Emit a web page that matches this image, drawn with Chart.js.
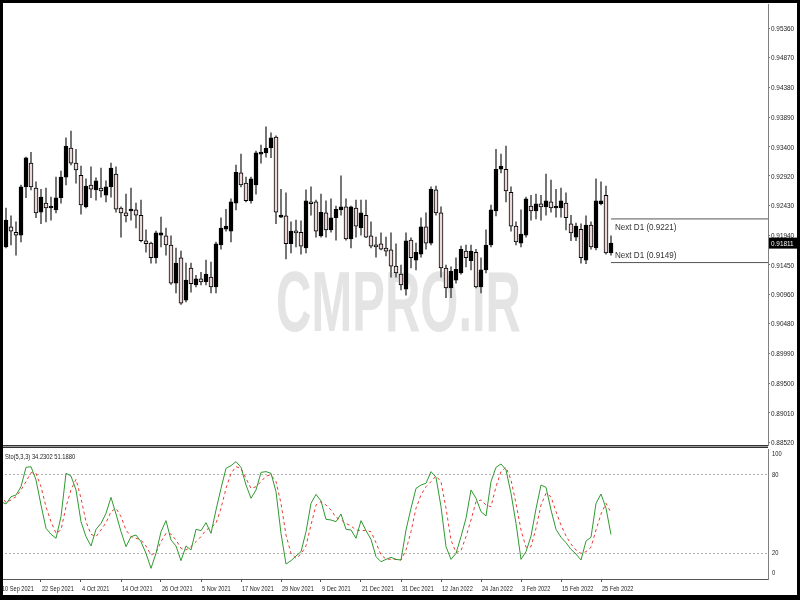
<!DOCTYPE html>
<html>
<head>
<meta charset="utf-8">
<script src="https://cdn.jsdelivr.net/npm/chart.js@4.4.0/dist/chart.umd.min.js"></script>
<style>
  body { margin: 0; background: #fff; }
  #wrap { position: relative; width: 800px; height: 600px; overflow: hidden; background: #fff; }
  #price { position: absolute; left: 0; top: 0; }
  #sto { position: absolute; left: 0; top: 447px; }
  #sep { position: absolute; left: 0; top: 445px; width: 768px; height: 1px; background: #9a9a9a;
         border-top: 1px solid #333; border-bottom: 1px solid #333; }
  #frame { position: absolute; left: 0; top: 0; width: 800px; height: 600px; box-sizing: border-box;
           border-style: solid; border-color: #000; border-width: 3px 3px 5px 3px; pointer-events: none; }
</style>
</head>
<body>
<div id="wrap">
  <canvas id="price" width="800" height="447"></canvas>
  <canvas id="sto" width="800" height="153"></canvas>
  <div id="sep"></div>
  <div id="frame"></div>
</div>
<script>
// daily candles, bar 1 = 13 Sep 2021 ... bar 122 = 1 Mar 2022
const firstBar = 1;
const opens = [
  0.9175, 0.9208, 0.9199, 0.9194, 0.9274, 0.9313, 0.9272, 0.9232, 0.9247, 0.9239,
  0.9236, 0.9256, 0.9290, 0.9338, 0.9313, 0.9293, 0.9241, 0.9277, 0.9269, 0.9272,
  0.9260, 0.9274, 0.9295, 0.9239, 0.9231, 0.9234, 0.9236, 0.9227, 0.9185, 0.9181,
  0.9157, 0.9194, 0.9193, 0.9178, 0.9115, 0.9157, 0.9087, 0.9140, 0.9112, 0.9122,
  0.9117, 0.9125, 0.9109, 0.9178, 0.9204, 0.9201, 0.9247, 0.9297, 0.9280, 0.9251,
  0.9277, 0.9328, 0.9330, 0.9338, 0.9356, 0.9224, 0.9226, 0.9180, 0.9199, 0.9199,
  0.9173, 0.9247, 0.9249, 0.9193, 0.9231, 0.9203, 0.9223, 0.9236, 0.9241, 0.9188,
  0.9239, 0.9206, 0.9227, 0.9193, 0.9178, 0.9180, 0.9173, 0.9170, 0.9143, 0.9130,
  0.9105, 0.9186, 0.9153, 0.9163, 0.9208, 0.9181, 0.9269, 0.9231, 0.9140, 0.9107,
  0.9120, 0.9132, 0.9168, 0.9152, 0.9166, 0.9109, 0.9137, 0.9178, 0.9234, 0.9303,
  0.9303, 0.9265, 0.9209, 0.9181, 0.9194, 0.9242, 0.9234, 0.9246, 0.9241, 0.9249,
  0.9239, 0.9239, 0.9247, 0.9213, 0.9191, 0.9204, 0.9153, 0.9211, 0.9173, 0.9246,
  0.9260, 0.9165
];
const highs = [
  0.9239, 0.9226, 0.9216, 0.9277, 0.9323, 0.9331, 0.9282, 0.9270, 0.9272, 0.9257,
  0.9290, 0.9300, 0.9355, 0.9366, 0.9336, 0.9308, 0.9287, 0.9307, 0.9289, 0.9305,
  0.9284, 0.9313, 0.9307, 0.9241, 0.9262, 0.9272, 0.9247, 0.9252, 0.9203, 0.9183,
  0.9201, 0.9224, 0.9206, 0.9193, 0.9173, 0.9168, 0.9148, 0.9148, 0.9128, 0.9133,
  0.9153, 0.9150, 0.9183, 0.9223, 0.9237, 0.9254, 0.9310, 0.9328, 0.9290, 0.9290,
  0.9333, 0.9343, 0.9373, 0.9363, 0.9358, 0.9270, 0.9264, 0.9216, 0.9219, 0.9218,
  0.9269, 0.9274, 0.9252, 0.9262, 0.9251, 0.9254, 0.9242, 0.9292, 0.9254, 0.9242,
  0.9252, 0.9252, 0.9252, 0.9216, 0.9191, 0.9198, 0.9191, 0.9198, 0.9180, 0.9145,
  0.9198, 0.9190, 0.9181, 0.9223, 0.9231, 0.9274, 0.9275, 0.9241, 0.9145, 0.9142,
  0.9157, 0.9176, 0.9178, 0.9178, 0.9171, 0.9157, 0.9203, 0.9244, 0.9336, 0.9328,
  0.9341, 0.9274, 0.9216, 0.9236, 0.9257, 0.9260, 0.9262, 0.9260, 0.9295, 0.9285,
  0.9270, 0.9272, 0.9264, 0.9227, 0.9214, 0.9213, 0.9226, 0.9216, 0.9287, 0.9282,
  0.9275, 0.9193
];
const lows = [
  0.9173, 0.9178, 0.9161, 0.9183, 0.9256, 0.9269, 0.9223, 0.9213, 0.9216, 0.9219,
  0.9231, 0.9247, 0.9277, 0.9310, 0.9280, 0.9229, 0.9239, 0.9256, 0.9252, 0.9257,
  0.9249, 0.9257, 0.9232, 0.9191, 0.9216, 0.9219, 0.9206, 0.9183, 0.9166, 0.9148,
  0.9148, 0.9175, 0.9161, 0.9113, 0.9099, 0.9080, 0.9084, 0.9100, 0.9109, 0.9112,
  0.9112, 0.9099, 0.9099, 0.9171, 0.9201, 0.9183, 0.9236, 0.9274, 0.9249, 0.9247,
  0.9262, 0.9313, 0.9323, 0.9322, 0.9213, 0.9223, 0.9155, 0.9165, 0.9175, 0.9163,
  0.9165, 0.9227, 0.9191, 0.9191, 0.9191, 0.9199, 0.9186, 0.9227, 0.9186, 0.9173,
  0.9191, 0.9194, 0.9190, 0.9173, 0.9158, 0.9170, 0.9160, 0.9125, 0.9125, 0.9104,
  0.9095, 0.9140, 0.9137, 0.9158, 0.9171, 0.9178, 0.9227, 0.9125, 0.9091, 0.9091,
  0.9115, 0.9130, 0.9142, 0.9137, 0.9107, 0.9099, 0.9132, 0.9175, 0.9226, 0.9297,
  0.9249, 0.9201, 0.9178, 0.9175, 0.9191, 0.9219, 0.9221, 0.9219, 0.9227, 0.9232,
  0.9224, 0.9224, 0.9203, 0.9185, 0.9185, 0.9148, 0.9147, 0.9171, 0.9170, 0.9244,
  0.9163, 0.9161
];
const closes = [
  0.9219, 0.9201, 0.9194, 0.9274, 0.9322, 0.9274, 0.9231, 0.9257, 0.9239, 0.9242,
  0.9256, 0.9290, 0.9341, 0.9313, 0.9302, 0.9244, 0.9275, 0.9270, 0.9284, 0.9267,
  0.9274, 0.9305, 0.9237, 0.9231, 0.9226, 0.9237, 0.9227, 0.9185, 0.9180, 0.9157,
  0.9198, 0.9198, 0.9178, 0.9115, 0.9148, 0.9082, 0.9120, 0.9114, 0.9122, 0.9117,
  0.9130, 0.9109, 0.9180, 0.9206, 0.9209, 0.9249, 0.9298, 0.9277, 0.9251, 0.9287,
  0.9330, 0.9330, 0.9338, 0.9355, 0.9232, 0.9226, 0.9180, 0.9201, 0.9198, 0.9176,
  0.9251, 0.9246, 0.9201, 0.9232, 0.9203, 0.9223, 0.9237, 0.9241, 0.9188, 0.9241,
  0.9209, 0.9231, 0.9191, 0.9176, 0.9175, 0.9171, 0.9168, 0.9143, 0.9132, 0.9112,
  0.9185, 0.9157, 0.9166, 0.9208, 0.9181, 0.9270, 0.9231, 0.9140, 0.9107, 0.9135,
  0.9138, 0.9171, 0.9157, 0.9168, 0.9109, 0.9137, 0.9178, 0.9236, 0.9303, 0.9308,
  0.9267, 0.9209, 0.9183, 0.9196, 0.9254, 0.9234, 0.9246, 0.9241, 0.9251, 0.9239,
  0.9241, 0.9251, 0.9223, 0.9198, 0.9209, 0.9157, 0.9211, 0.9175, 0.9251, 0.9251,
  0.9165, 0.9181
];

// Stochastic (5,3,3), bar 0 = 10 Sep 2021
const stoMain = [
  59.5, 57.7, 63.3, 64.6, 71, 85.9, 86.4, 76.2, 56.9, 39,
  34.4, 31.3, 48, 81.3, 79.2, 68.5, 44.1, 32.6, 25.4, 38.2,
  42.8, 50.5, 62.8, 50, 36.4, 24.9, 32.6, 33.8, 28.7, 19.7,
  8.2, 19.7, 36.4, 44.9, 30, 25.4, 14.1, 25.4, 22.3, 38.2,
  37.2, 43.3, 35.1, 53.1, 69.7, 85.1, 87.2, 90.3, 85.9, 72.3,
  62.1, 68.5, 82, 82.6, 81.3, 67.2, 35.1, 11.5, 14.1, 17.7,
  21, 36.4, 58.2, 65.1, 60, 45.9, 45.4, 44.1, 50, 38.2,
  37.7, 31.3, 44.9, 37.2, 30.5, 17.2, 13.3, 15.1, 16.7, 15.1,
  14.6, 37.7, 54.4, 69.7, 72.3, 73.6, 82.6, 78.2, 55.6, 24.9,
  15.1, 19.7, 32.6, 46.7, 68.5, 62.1, 51.8, 48.5, 74.9, 85.9,
  88.5, 83.9, 65.9, 42.8, 15.1, 21, 33, 54, 72.3, 70.5,
  53.1, 38.2, 32.1, 27.9, 22.8, 19.2, 14.6, 29.2, 32.1, 58.2,
  65.4, 54.4, 34.2
];
const stoSignal = [
  64.6, 58.7, 60.8, 63.3, 68.5, 74.9, 81.8, 81.3, 71, 55.6,
  44.1, 35.1, 37.7, 55.6, 68.5, 76.7, 62.1, 44.1, 34.4, 32.6,
  37.7, 43.3, 51.8, 54.4, 48, 37.7, 32.6, 31.3, 30, 25.4,
  18.5, 20.3, 28.7, 35.1, 34.6, 30, 23.6, 22.3, 24.9, 28.7,
  32.6, 37.7, 39.7, 42.8, 54.4, 69.7, 81.3, 86.4, 85.1, 77.4,
  69.7, 71, 74.9, 79.2, 80, 74.9, 58.2, 33.8, 19.7, 15.9,
  19.2, 25.4, 41.5, 56.9, 59.5, 56.9, 53.1, 47.4, 45.4, 42.8,
  40.8, 37.7, 37.2, 37.4, 36.4, 27.9, 18.5, 15.4, 15.1, 15.1,
  14.6, 22.3, 36.4, 54.4, 64.6, 71, 74.9, 79.2, 74.9, 54.4,
  30, 20.3, 21.8, 32.6, 45.4, 59.5, 60.8, 56.9, 55.6, 71,
  82.6, 85.9, 76.2, 58.2, 37.7, 24.4, 24.9, 39, 56.9, 65.9,
  63.3, 51.8, 41.5, 33.1, 26.9, 22.3, 19.7, 21, 24.4, 37.7,
  50, 58.2, 51.2
];

const priceTicks = [0.95360, 0.94870, 0.94380, 0.93890, 0.93400, 0.92920, 0.92430, 0.91940,
  0.91450, 0.90960, 0.90480, 0.89990, 0.89500, 0.89010, 0.88520];
const dateLabels = ['10 Sep 2021', '22 Sep 2021', '4 Oct 2021', '14 Oct 2021', '26 Oct 2021',
  '5 Nov 2021', '17 Nov 2021', '29 Nov 2021', '9 Dec 2021', '21 Dec 2021', '31 Dec 2021',
  '12 Jan 2022', '24 Jan 2022', '3 Feb 2022', '15 Feb 2022', '25 Feb 2022'];
const dateStep = 8;
const nextD1 = [0.9221, 0.9149];
const lastPrice = 0.91811;
const stoLevels = [0, 20, 80, 100];

const FONT = '"Liberation Sans", Arial, sans-serif';
const X_MAX = 153.4;

const bodies = opens.map((o, i) => ({ x: i + firstBar, y: [o, closes[i]] }));
const wicks = lows.map((l, i) => ({ x: i + firstBar, y: [l, highs[i]] }));
const bodyColors = opens.map((o, i) => closes[i] > o ? '#000000' : '#ecd8d8');
const lastX = opens.length - 1 + firstBar;

// terminal fonts are narrow: squeeze canvas text horizontally
function narrowText(ctx, text, x, y, sx) {
  ctx.save();
  ctx.translate(x, y);
  ctx.scale(sx, 1);
  ctx.fillText(text, 0, 0);
  ctx.restore();
}

const priceDecor = {
  id: 'priceDecor',
  beforeDatasetsDraw(chart) {
    const ctx = chart.ctx;
    ctx.save();
    ctx.font = 'bold 86px ' + FONT;
    const w = ctx.measureText('CMPRO.IR').width;
    ctx.translate(276, 331);
    ctx.scale(245 / w, 1);
    ctx.fillStyle = '#e4e4e4';
    ctx.textBaseline = 'alphabetic';
    ctx.fillText('CMPRO.IR', 0, 0);
    ctx.restore();
  },
  afterDraw(chart) {
    const ctx = chart.ctx;
    const y = chart.scales.y;
    const xs = chart.scales.x;
    const area = chart.chartArea;
    ctx.save();
    ctx.textBaseline = 'middle';
    ctx.textAlign = 'left';
    // price axis labels
    ctx.font = '8px ' + FONT;
    ctx.fillStyle = '#222';
    y.ticks.forEach(t => {
      narrowText(ctx, t.value.toFixed(5), area.right + 3, y.getPixelForValue(t.value) + 0.5, 0.8);
    });
    // Next D1 labels
    ctx.font = '9.5px ' + FONT;
    ctx.fillStyle = '#333';
    const lx = xs.getPixelForValue(lastX) + 4;
    narrowText(ctx, 'Next D1 (' + nextD1[0].toFixed(4) + ')', lx, y.getPixelForValue(nextD1[0]) + 8, 0.85);
    narrowText(ctx, 'Next D1 (' + nextD1[1].toFixed(4) + ')', lx, y.getPixelForValue(nextD1[1]) - 7, 0.85);
    // current price marker
    const py = y.getPixelForValue(lastPrice);
    ctx.fillStyle = '#000';
    ctx.fillRect(area.right + 1, py - 5.5, 28, 11);
    ctx.fillStyle = '#fff';
    ctx.font = '8px ' + FONT;
    narrowText(ctx, lastPrice.toFixed(5), area.right + 3, py + 0.5, 0.8);
    ctx.restore();
  }
};

new Chart(document.getElementById('price'), {
  type: 'bar',
  data: {
    datasets: [
      {
        data: bodies,
        backgroundColor: bodyColors,
        borderColor: '#000',
        borderWidth: 1,
        borderSkipped: false,
        barThickness: 4,
        minBarLength: 2,
        grouped: false,
        order: 0
      },
      {
        data: wicks,
        backgroundColor: '#5a5a5a',
        borderWidth: 0,
        barThickness: 1,
        grouped: false,
        order: 1
      },
      {
        type: 'line',
        data: [{ x: lastX, y: nextD1[0] }, { x: X_MAX, y: nextD1[0] }],
        borderColor: '#555',
        borderWidth: 1,
        pointRadius: 0,
        order: 2
      },
      {
        type: 'line',
        data: [{ x: lastX, y: nextD1[1] }, { x: X_MAX, y: nextD1[1] }],
        borderColor: '#555',
        borderWidth: 1,
        pointRadius: 0,
        order: 2
      }
    ]
  },
  options: {
    responsive: false,
    animation: false,
    events: [],
    layout: { padding: { left: 1, top: 4, right: 0, bottom: 2 } },
    plugins: { legend: { display: false }, tooltip: { enabled: false } },
    scales: {
      x: { type: 'linear', min: 0, max: X_MAX, display: false, offset: false },
      y: {
        position: 'right',
        min: 0.88480,
        max: 0.95756,
        afterBuildTicks: s => { s.ticks = priceTicks.map(v => ({ value: v })); },
        afterFit: s => { s.width = 32; },
        ticks: { display: false },
        grid: { drawOnChartArea: false, tickLength: 2, color: '#777' },
        border: { color: '#808080', width: 1 }
      }
    }
  },
  plugins: [priceDecor]
});

const stoDecor = {
  id: 'stoDecor',
  afterDraw(chart) {
    const ctx = chart.ctx;
    const area = chart.chartArea;
    const y = chart.scales.y;
    const x = chart.scales.x;
    ctx.save();
    ctx.font = '8px ' + FONT;
    ctx.fillStyle = '#222';
    ctx.textBaseline = 'middle';
    ctx.textAlign = 'left';
    narrowText(ctx, 'Sto(5,3,3) 34.2302 51.1880', 5, area.top + 7.5, 0.72);
    stoLevels.forEach(v => {
      let py = y.getPixelForValue(v);
      py = Math.max(area.top + 5, Math.min(area.bottom - 6, py));
      narrowText(ctx, String(v), area.right + 4, py, 0.72);
    });
    x.ticks.forEach(t => {
      narrowText(ctx, dateLabels[Math.round(t.value / dateStep)], x.getPixelForValue(t.value) + 1, area.bottom + 9.5, 0.7);
    });
    ctx.restore();
  }
};

new Chart(document.getElementById('sto'), {
  type: 'line',
  data: {
    datasets: [
      {
        data: stoMain.map((v, i) => ({ x: i, y: v })),
        borderColor: '#2f9a2f',
        borderWidth: 1,
        pointRadius: 0,
        tension: 0
      },
      {
        data: stoSignal.map((v, i) => ({ x: i, y: v })),
        borderColor: '#e83a3a',
        borderWidth: 1,
        borderDash: [3, 3],
        pointRadius: 0,
        tension: 0
      }
    ]
  },
  options: {
    responsive: false,
    animation: false,
    events: [],
    layout: { padding: { left: 1, top: 2, right: 0, bottom: 0 } },
    plugins: { legend: { display: false }, tooltip: { enabled: false } },
    scales: {
      x: {
        type: 'linear',
        min: 0,
        max: X_MAX,
        offset: false,
        afterBuildTicks: s => { s.ticks = dateLabels.map((d, i) => ({ value: i * dateStep })); },
        afterFit: s => { s.height = 21; },
        ticks: { display: false },
        grid: { drawOnChartArea: false, tickLength: 3, color: '#555' },
        border: { color: '#555', width: 1 }
      },
      y: {
        position: 'right',
        min: 0,
        max: 100,
        afterBuildTicks: s => { s.ticks = stoLevels.map(v => ({ value: v })); },
        afterFit: s => { s.width = 32; },
        ticks: { display: false },
        grid: {
          drawTicks: false,
          color: c => (c.tick && (c.tick.value === 20 || c.tick.value === 80)) ? '#b0b0b0' : 'rgba(0,0,0,0)'
        },
        border: { color: '#808080', width: 1, dash: [2, 2] }
      }
    }
  },
  plugins: [stoDecor]
});
</script>
</body>
</html>
